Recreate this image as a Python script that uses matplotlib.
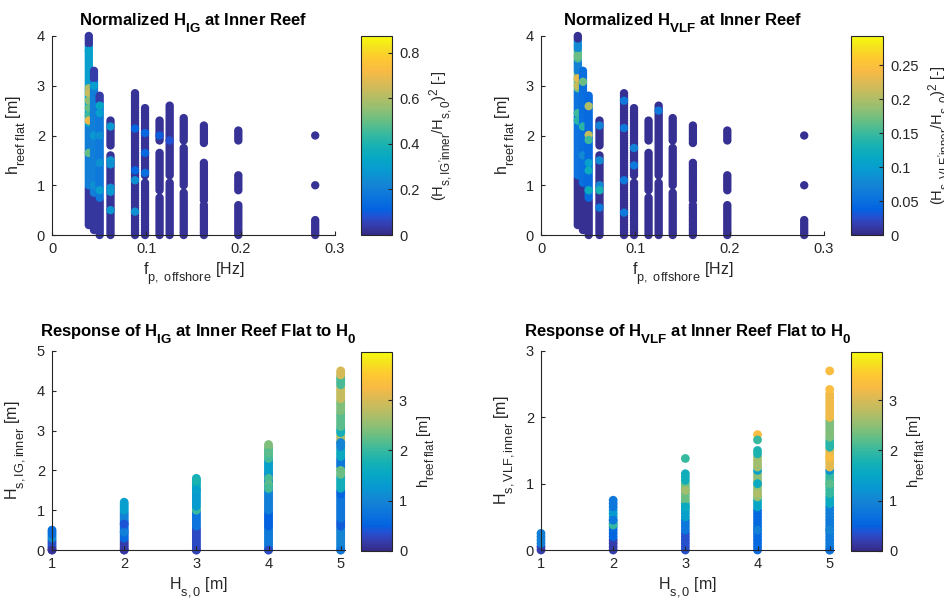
import matplotlib
matplotlib.use('Agg')
import matplotlib.pyplot as plt
from matplotlib.colors import LinearSegmentedColormap
import matplotlib._mathtext as _mt

# MATLAB-like tex: larger, lower subscripts
try:
    _mt.SHRINK_FACTOR = 0.8
    _mt.FontConstantsBase.sub1 = 0.8
    _mt.FontConstantsBase.sub2 = 0.9
except Exception:
    pass

plt.rcParams['font.family'] = ['Liberation Sans', 'DejaVu Sans']
plt.rcParams['mathtext.fontset'] = 'custom'
plt.rcParams['mathtext.rm'] = 'Liberation Sans'
plt.rcParams['mathtext.it'] = 'Liberation Sans:italic'
plt.rcParams['mathtext.bf'] = 'Liberation Sans:bold'

# ---------------- data ----------------
# grid of levels on which the simulated cases sit
LEVELS = [0.00, 0.05, 0.10, 0.15, 0.20, 0.25, 0.30, 0.35, 0.40, 0.45,
          0.50, 0.55, 0.60, 0.65, 0.70, 0.75, 0.80, 0.85, 0.90, 0.95,
          1.00, 1.05, 1.10, 1.15, 1.20, 1.25, 1.30, 1.35, 1.40, 1.45,
          1.50, 1.55, 1.60, 1.65, 1.70, 1.75, 1.80, 1.85, 1.90, 1.95,
          2.00, 2.05, 2.10, 2.15, 2.20, 2.25, 2.30, 2.35, 2.40, 2.45,
          2.50, 2.55, 2.60, 2.65, 2.70, 2.75, 2.80, 2.85, 2.90, 2.95,
          3.00, 3.05, 3.10, 3.15, 3.20, 3.25, 3.30, 3.35, 3.40, 3.45,
          3.50, 3.55, 3.60, 3.65, 3.70, 3.75, 3.80, 3.85, 3.90, 3.95,
          4.00, 4.05, 4.10, 4.15, 4.20, 4.25, 4.30, 4.35, 4.40, 4.45, 4.50]

# top row: offshore peak frequency columns and reef-flat depth ranges
FP = [0.039, 0.0445, 0.0505, 0.062, 0.088, 0.0986, 0.114, 0.1247,
      0.1396, 0.161, 0.1975, 0.279]
H_SEGS = [
    [(0.2, 4.0)],
    [(0.1, 3.3)],
    [(0.0, 2.8)],
    [(0.0, 1.6), (1.8, 2.3)],
    [(0.0, 2.85)],
    [(0.0, 1.05), (1.2, 2.55)],
    [(0.0, 0.75), (0.9, 1.65), (1.9, 2.3)],
    [(0.0, 1.05), (1.2, 2.6)],
    [(0.0, 0.85), (1.0, 1.75), (1.9, 2.35)],
    [(0.0, 0.6), (0.7, 0.95), (1.0, 1.45), (1.85, 2.2)],
    [(0.0, 0.6), (0.9, 1.2), (1.9, 2.1)],
    [(0.0, 0.3), (1.0, 1.0), (2.0, 2.0)],
]
# normalized IG energy: bands (h_lo, h_hi, value) and single spots (h, value)
IG_BASE = 0.02
IG_BANDS = {
    0: [(0.2, 0.95, 0.03), (1.0, 2.2, 0.20), (2.25, 3.0, 0.32),
        (3.05, 3.8, 0.30), (3.85, 4.0, 0.03)],
    1: [(0.1, 0.8, 0.03), (0.85, 3.1, 0.20), (3.15, 3.3, 0.04)],
    2: [(0.0, 0.7, 0.03), (0.75, 2.65, 0.18), (2.7, 2.8, 0.04)],
}
IG_SPOTS = {
    0: [(2.95, 0.60), (2.85, 0.64), (2.7, 0.55), (2.55, 0.50), (2.4, 0.45),
        (2.3, 0.70), (1.65, 0.50), (3.7, 0.32)],
    1: [(3.0, 0.30), (2.0, 0.28), (1.0, 0.25)],
    2: [(2.6, 0.33), (2.45, 0.30), (2.0, 0.25), (1.45, 0.26), (0.9, 0.30)],
    3: [(2.18, 0.28), (1.5, 0.28), (1.42, 0.25), (0.95, 0.26), (0.87, 0.28), (0.5, 0.27)],
    4: [(2.14, 0.12), (1.3, 0.12), (1.1, 0.25), (0.47, 0.25)],
    5: [(2.05, 0.12), (1.65, 0.12), (1.25, 0.15)],
    6: [(2.0, 0.10)],
    7: [(1.9, 0.08)],
}
# normalized VLF energy
VLF_BASE = 0.005
VLF_BANDS = {
    0: [(0.2, 1.15, 0.005), (1.2, 2.9, 0.055), (2.95, 3.25, 0.17),
        (3.3, 3.5, 0.07), (3.55, 3.7, 0.16), (3.75, 3.9, 0.08), (3.95, 4.0, 0.005)],
    1: [(0.1, 1.0, 0.005), (1.05, 3.3, 0.05)],
    2: [(0.0, 0.7, 0.005), (0.75, 2.8, 0.045)],
}
VLF_SPOTS = {
    0: [(3.15, 0.23), (3.0, 0.21), (3.6, 0.17), (2.45, 0.15), (2.3, 0.14)],
    1: [(3.08, 0.17), (2.18, 0.14), (1.6, 0.08)],
    2: [(2.59, 0.20), (2.01, 0.21), (1.91, 0.15), (1.45, 0.10), (1.3, 0.12), (0.9, 0.12)],
    3: [(2.2, 0.07), (1.5, 0.08), (1.0, 0.08), (0.9, 0.13), (0.55, 0.06)],
    4: [(2.7, 0.06), (2.15, 0.06), (1.1, 0.06), (0.45, 0.06)],
    5: [(1.75, 0.07), (1.4, 0.06)],
    7: [(2.5, 0.06)],
}

# bottom row: offshore wave height vs inner reef wave height, colour = reef depth
HS0 = [1, 2, 3, 4, 5]
IG_TOP = [0.52, 1.2, 1.82, 2.65, 4.5]
IG_H_BANDS = [
    [(0.0, 0.1, 0.15), (0.1, 0.3, 0.35), (0.3, 0.4, 1.1), (0.4, 0.52, 0.65)],
    [(0.0, 0.3, 0.2), (0.3, 0.8, 0.6), (0.8, 1.0, 0.95), (1.0, 1.2, 1.35)],
    [(0.0, 0.6, 0.3), (0.6, 1.0, 0.75), (1.0, 1.1, 2.0), (1.1, 1.6, 1.3), (1.6, 1.82, 1.65)],
    [(0.0, 0.6, 0.85), (0.6, 1.0, 0.5), (1.0, 1.5, 0.9), (1.5, 2.0, 1.1),
     (2.0, 2.3, 1.4), (2.3, 2.55, 2.1), (2.6, 2.65, 2.4)],
    [(0.0, 0.6, 1.0), (0.6, 0.8, 0.45), (0.8, 1.4, 0.8), (1.4, 1.55, 0.55),
     (1.55, 1.9, 1.7), (1.9, 2.1, 2.3), (2.1, 2.35, 0.8), (2.35, 2.6, 1.6),
     (2.6, 2.75, 1.0), (2.75, 2.95, 2.7), (2.95, 3.1, 1.7), (3.1, 3.45, 2.2),
     (3.5, 3.75, 2.4), (3.8, 4.1, 2.85), (4.15, 4.35, 2.1), (4.4, 4.5, 3.0)],
]
IG_H_SPOTS = [
    [(0.0, 0.1)],
    [(0.45, 0.9), (0.65, 0.4), (0.0, 0.15)],
    [(1.75, 1.8), (1.5, 1.4), (0.0, 0.25)],
    [(1.8, 2.1), (1.65, 2.2), (1.55, 2.1), (2.45, 2.2), (0.0, 0.3)],
    [(2.7, 1.0), (2.0, 2.3), (0.0, 0.8)],
]
VLF_TOP = [0.27, 0.75, 1.15, 1.5, 2.35]
VLF_H_BANDS = [
    [(0.0, 0.1, 0.2), (0.1, 0.27, 0.9)],
    [(0.0, 0.2, 0.2), (0.2, 0.35, 0.55), (0.35, 0.45, 0.7), (0.45, 0.65, 1.3), (0.65, 0.75, 0.8)],
    [(0.0, 0.3, 0.35), (0.3, 0.5, 0.8), (0.5, 0.75, 1.4), (0.75, 1.05, 2.3), (1.05, 1.15, 1.7)],
    [(0.0, 0.65, 0.6), (0.65, 0.8, 1.5), (0.8, 1.15, 2.5), (1.2, 1.25, 1.4),
     (1.25, 1.4, 2.6), (1.45, 1.5, 1.8)],
    [(0.0, 0.55, 0.85), (0.55, 0.7, 0.9), (0.7, 0.85, 1.6), (0.85, 1.2, 2.0),
     (1.2, 1.25, 1.2), (1.25, 1.55, 3.1), (1.55, 1.7, 1.9), (1.7, 2.0, 2.4),
     (2.0, 2.35, 3.2)],
]
VLF_H_SPOTS = [
    [],
    [(0.38, 2.0), (0.45, 0.8)],
    [(1.38, 2.0), (0.9, 2.6), (0.65, 1.6)],
    [(1.74, 3.3), (1.66, 2.0), (1.0, 1.6), (0.85, 2.7), (0.3, 0.9)],
    [(2.7, 3.3), (2.42, 3.3), (1.4, 3.3), (1.0, 2.2), (0.3, 1.0), (0.0, 0.7)],
]

CLIM_IG = 0.873
CLIM_VLF = 0.293
CLIM_H = 3.96

# ---------------- colormap (parula approximation) ----------------
PARULA = [
    (0.000, (0.2081, 0.1663, 0.5292)), (0.032, (0.2123, 0.2138, 0.6270)),
    (0.063, (0.1959, 0.2645, 0.7279)), (0.095, (0.1253, 0.3242, 0.8303)),
    (0.127, (0.0117, 0.3875, 0.8820)), (0.190, (0.0498, 0.4586, 0.8641)),
    (0.254, (0.0793, 0.5200, 0.8312)), (0.317, (0.0343, 0.5966, 0.8199)),
    (0.381, (0.0228, 0.6535, 0.7768)), (0.444, (0.0843, 0.6928, 0.7062)),
    (0.508, (0.2178, 0.7250, 0.6193)), (0.571, (0.3953, 0.7459, 0.5244)),
    (0.635, (0.5709, 0.7485, 0.4494)), (0.698, (0.7184, 0.7411, 0.3905)),
    (0.762, (0.8507, 0.7299, 0.3360)), (0.825, (0.9739, 0.7314, 0.2666)),
    (0.889, (0.9955, 0.7861, 0.1967)), (0.952, (0.9589, 0.8949, 0.1132)),
    (1.000, (0.9763, 0.9831, 0.0538)),
]
cmap = LinearSegmentedColormap.from_list('parula', PARULA, N=256)

AXC = (0.15, 0.15, 0.15)
TICK_FS = 10.5
LABEL_FS = 11.5
TITLE_FS = 12


def build_column(x, segs, bands, base, spots):
    xs, ys, cs = [], [], []
    for lv in LEVELS:
        if not any(lo - 1e-9 <= lv <= hi + 1e-9 for lo, hi in segs):
            continue
        val = base
        for lo, hi, v in bands:
            if lo - 1e-9 <= lv <= hi + 1e-9:
                val = v
        xs.append(x)
        ys.append(lv)
        cs.append(val)
    for h, v in spots:
        xs.append(x)
        ys.append(h)
        cs.append(v)
    return xs, ys, cs


def style_axes(ax):
    for s in ['top', 'right']:
        ax.spines[s].set_visible(False)
    for s in ['left', 'bottom']:
        ax.spines[s].set_color(AXC)
        ax.spines[s].set_linewidth(0.8)
    ax.tick_params(direction='in', length=3, width=0.8, colors=AXC,
                   labelsize=TICK_FS, pad=5, labelcolor=AXC)


def add_cbar(fig, sc, rect, ticks, ticklabels, label):
    cax = fig.add_axes(rect)
    cb = fig.colorbar(sc, cax=cax)
    cb.set_ticks(ticks)
    cb.set_ticklabels(ticklabels)
    cb.outline.set_edgecolor(AXC)
    cb.outline.set_linewidth(0.8)
    cax.tick_params(direction='in', length=3, width=0.8, colors=AXC,
                    labelsize=TICK_FS, labelcolor=AXC, pad=5)
    cb.set_label(label, fontsize=10.5, color=AXC, labelpad=6)
    return cb


fig = plt.figure(figsize=(9.44, 6.06), dpi=100)

MS = 36

for (rect, crect, bands, spots, base, clim, title, cbt, cbtl, cblabel) in [
    ([0.0551, 0.6122, 0.2998, 0.3284], [0.3824, 0.6122, 0.0328, 0.3284],
     IG_BANDS, IG_SPOTS, IG_BASE, CLIM_IG,
     r'Normalized H$_{\mathbf{IG}}$ at Inner Reef',
     [0, 0.2, 0.4, 0.6, 0.8], ['0', '0.2', '0.4', '0.6', '0.8'],
     r"(H$_{\mathrm{s,IG'inner}}$/H$_{\mathrm{s,0}}$)$^{2}$ [-]"),
    ([0.5731, 0.6122, 0.2998, 0.3284], [0.9015, 0.6122, 0.0339, 0.3284],
     VLF_BANDS, VLF_SPOTS, VLF_BASE, CLIM_VLF,
     r'Normalized H$_{\mathbf{VLF}}$ at Inner Reef',
     [0, 0.05, 0.1, 0.15, 0.2, 0.25], ['0', '0.05', '0.1', '0.15', '0.2', '0.25'],
     r"(H$_{\mathrm{s,VLF'inner}}$/H$_{\mathrm{s,0}}$)$^{2}$ [-]"),
]:
    ax = fig.add_axes(rect)
    X, Y, C = [], [], []
    for i, f in enumerate(FP):
        xs, ys, cs = build_column(f, H_SEGS[i], bands.get(i, []), base, spots.get(i, []))
        X += xs
        Y += ys
        C += cs
    sc = ax.scatter(X, Y, c=C, cmap=cmap, vmin=0, vmax=clim, s=MS,
                    linewidths=0, clip_on=False)
    ax.set_xlim(0, 0.3)
    ax.set_ylim(0, 4)
    ax.set_xticks([0, 0.1, 0.2, 0.3])
    ax.set_xticklabels(['0', '0.1', '0.2', '0.3'])
    ax.set_yticks([0, 1, 2, 3, 4])
    style_axes(ax)
    ax.set_title(title, fontsize=TITLE_FS, fontweight='bold', pad=7)
    ax.set_xlabel(r'f$_{\mathrm{p,\ offshore}}$ [Hz]', fontsize=LABEL_FS, color=AXC, labelpad=3)
    ax.set_ylabel(r'h$_{\mathrm{reef\ flat}}$ [m]', fontsize=LABEL_FS, color=AXC, labelpad=6)
    add_cbar(fig, sc, crect, cbt, cbtl, cblabel)

for (rect, crect, tops, hbands, hspots, ymax, title, ylabel) in [
    ([0.0551, 0.0924, 0.3104, 0.3284], [0.3824, 0.0908, 0.0328, 0.3284],
     IG_TOP, IG_H_BANDS, IG_H_SPOTS, 5,
     r'Response of H$_{\mathbf{IG}}$ at Inner Reef Flat to H$_{\mathbf{0}}$',
     r'H$_{\mathrm{s,IG,inner}}$ [m]'),
    ([0.5731, 0.0924, 0.3104, 0.3284], [0.9015, 0.0908, 0.0328, 0.3284],
     VLF_TOP, VLF_H_BANDS, VLF_H_SPOTS, 3,
     r'Response of H$_{\mathbf{VLF}}$ at Inner Reef Flat to H$_{\mathbf{0}}$',
     r'H$_{\mathrm{s,VLF,inner}}$ [m]'),
]:
    ax = fig.add_axes(rect)
    X, Y, C = [], [], []
    for i, h0 in enumerate(HS0):
        xs, ys, cs = build_column(h0, [(0.0, tops[i])], hbands[i], 0.5, hspots[i])
        X += xs
        Y += ys
        C += cs
    sc = ax.scatter(X, Y, c=C, cmap=cmap, vmin=0, vmax=CLIM_H, s=MS + 4,
                    linewidths=0, clip_on=False)
    ax.set_xlim(1, 5.06)
    ax.set_ylim(0, ymax)
    ax.set_xticks([1, 2, 3, 4, 5])
    ax.set_yticks(list(range(0, ymax + 1)))
    style_axes(ax)
    ax.set_title(title, fontsize=TITLE_FS, fontweight='bold', pad=10)
    ax.set_xlabel(r'H$_{\mathrm{s,0}}$ [m]', fontsize=LABEL_FS, color=AXC, labelpad=3)
    ax.set_ylabel(ylabel, fontsize=LABEL_FS, color=AXC, labelpad=6)
    add_cbar(fig, sc, crect, [0, 1, 2, 3], ['0', '1', '2', '3'],
             r'h$_{\mathrm{reef\ flat}}$ [m]')

fig.savefig('out.png', dpi=100)
